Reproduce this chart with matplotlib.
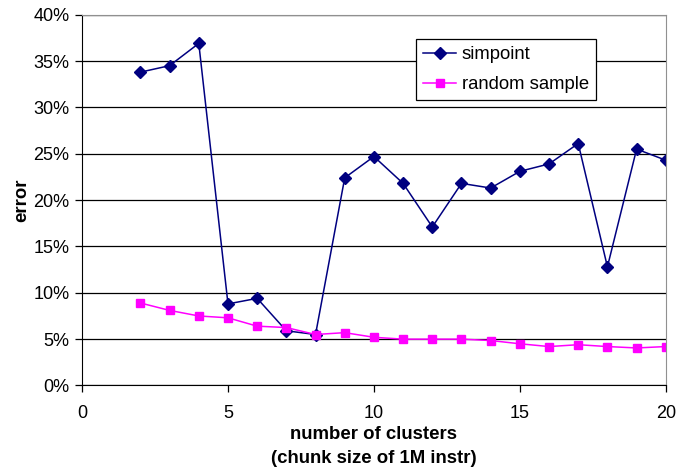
import matplotlib.pyplot as plt
from matplotlib.ticker import FuncFormatter

plt.rcParams['font.family'] = ['Liberation Sans', 'DejaVu Sans']

clusters = [2, 3, 4, 5, 6, 7, 8, 9, 10, 11, 12, 13, 14, 15, 16, 17, 18, 19, 20]
simpoint = [33.8, 34.5, 36.9, 8.8, 9.4, 5.9, 5.5, 22.4, 24.7, 21.8, 17.1,
            21.8, 21.3, 23.1, 23.9, 26.1, 12.8, 25.5, 24.3]
random_sample = [8.9, 8.1, 7.5, 7.3, 6.4, 6.25, 5.5, 5.7, 5.2, 5.0, 5.0,
                 5.0, 4.85, 4.5, 4.2, 4.4, 4.2, 4.05, 4.2]

fig = plt.figure(figsize=(6.78, 4.73), dpi=100)
ax = fig.add_axes([0.121, 0.185, 0.861, 0.784])

ax.plot(clusters, simpoint, color='#000080', marker='D', markersize=6,
        linewidth=1.1, label='simpoint')
ax.plot(clusters, random_sample, color='#FF00FF', marker='s', markersize=6,
        linewidth=1.1, label='random sample')

ax.set_xlim(0, 20)
ax.set_ylim(0, 40)
ax.set_xticks([0, 5, 10, 15, 20])
ax.set_yticks(range(0, 41, 5))
ax.yaxis.set_major_formatter(FuncFormatter(lambda v, p: '%d%%' % v))
ax.yaxis.grid(True, color='black', linewidth=0.9)
ax.set_axisbelow(True)

ax.spines['top'].set_color('#909090')
ax.spines['right'].set_color('#909090')
ax.spines['left'].set_color('black')
ax.spines['bottom'].set_color('black')
ax.tick_params(direction='out', length=5, labelsize=13, width=0.9)
ax.tick_params(axis='x', pad=9)
ax.tick_params(axis='y', pad=4)

ax.set_ylabel('error', fontsize=13.4, fontweight='bold', labelpad=2)
ax.set_xlabel('number of clusters\n(chunk size of 1M instr)', fontsize=13.4,
              fontweight='bold', linespacing=1.55, labelpad=3)

leg = ax.legend(loc='upper left', bbox_to_anchor=(0.572, 0.934), fontsize=13.3,
                frameon=True, fancybox=False, framealpha=1, edgecolor='black',
                handlelength=1.8, borderpad=0.38, labelspacing=0.7,
                handletextpad=0.3, borderaxespad=0)
leg.get_frame().set_linewidth(0.9)

fig.savefig('out.png', dpi=100)
